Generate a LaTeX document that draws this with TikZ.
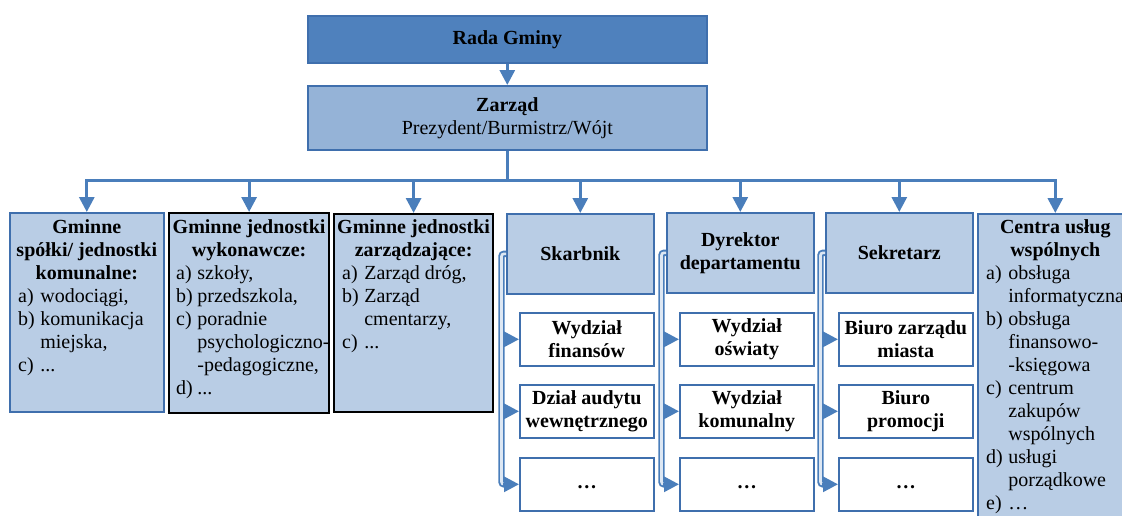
\documentclass[tikz,border=0pt]{standalone}
\usepackage{fontspec}
\setmainfont{Liberation Serif}
\usetikzlibrary{arrows.meta}

\definecolor{radafill}{HTML}{4F81BD}
\definecolor{zarzadfill}{HTML}{95B3D7}
\definecolor{unitfill}{HTML}{B9CDE5}
\definecolor{linkblue}{HTML}{4A7EBB}
\definecolor{edgeblue}{HTML}{3F6FAD}
\definecolor{railcore}{HTML}{DDE7F3}

% lettered list with a hanging label column
\newcommand{\orgitems}[2][5.5pt]{\begin{tabular}{@{}l@{\hspace{#1}}l@{}}#2\end{tabular}}

\begin{document}
\begin{tikzpicture}[x=1pt, y=-1pt,
  every node/.style={font=\fontsize{20}{23}\selectfont, inner sep=0pt},
  boxframe/.style={draw=edgeblue, line width=1.6pt, anchor=north west},
  unitbox/.style={boxframe, fill=unitfill},
  blackunit/.style={unitbox, draw=black, line width=2.2pt},
  office/.style={unitbox, minimum width=147pt, minimum height=80pt, align=center,
    font=\fontsize{20}{23}\selectfont\bfseries},
  subunit/.style={boxframe, fill=white, minimum width=134pt, minimum height=53pt, align=center,
    font=\fontsize{20}{23}\selectfont\bfseries},
  heading/.style={anchor=north, align=center, font=\fontsize{20}{23}\selectfont\bfseries},
  itemlist/.style={anchor=north west},
  link/.style={draw=linkblue, line width=3pt},
  rail/.style={draw=linkblue, line width=1.9pt, double=railcore, double distance=2.6pt,
    rounded corners=2.5pt},
  headed/.style={-{Triangle[width=15pt,length=15pt]}}
]
\useasboundingbox (0,0) rectangle (1122,515);
\clip (0,0) rectangle (1122,515);

% top levels
\node[boxframe, fill=radafill, minimum width=399pt, minimum height=47pt,
  font=\fontsize{20}{23}\selectfont\bfseries] (rada) at (307,15) {Rada Gminy};
\node[boxframe, fill=zarzadfill, minimum width=399pt, minimum height=64pt, align=center]
  (zarzad) at (307,85) {\textbf{Zarząd}\\Prezydent/Burmistrz/Wójt};

% municipal units
\node[unitbox, minimum width=154pt, minimum height=199pt] (spolki) at (9,212) {};
\node[blackunit, minimum width=160pt, minimum height=200pt] (wykonawcze) at (168,212) {};
\node[blackunit, minimum width=159pt, minimum height=198pt] (zarzadzajace) at (333,213) {};
\node[unitbox, minimum width=155pt, minimum height=330pt] (centra) at (977,213) {};

\node[heading] (spolki-h) at ([yshift=-5pt]spolki.north) {\strut Gminne\\spółki/ jednostki\\komunalne:};
\node[itemlist] (spolki-l) at (18,286) {\orgitems{a) & wodociągi,\\ b) & komunikacja\\ & miejska,\\ c) & ...}};

\node[heading] (wykonawcze-h) at ([yshift=-5pt]wykonawcze.north) {\strut Gminne jednostki\\wykonawcze:};
\node[itemlist] (wykonawcze-l) at (176,263) {\orgitems[4.5pt]{a) & szkoły,\\ b) & przedszkola,\\ c) & poradnie\\
  & psychologiczno-\\ & -pedagogiczne,\\ d) & ...}};

\node[heading] (zarzadzajace-h) at ([yshift=-4pt]zarzadzajace.north) {\strut Gminne jednostki\\zarządzające:};
\node[itemlist] (zarzadzajace-l) at (342,263) {\orgitems{a) & Zarząd dróg,\\ b) & Zarząd\\ & cmentarzy,\\ c) & ...}};

\node[heading] (centra-h) at ([yshift=-4pt]centra.north) {\strut Centra usług\\wspólnych};
\node[itemlist] (centra-l) at (986,263) {\orgitems{a) & obsługa\\ & informatyczna\\ b) & obsługa\\ & finansowo-\\
  & -księgowa\\ c) & centrum\\ & zakupów\\ & wspólnych\\ d) & usługi\\ & porządkowe\\ e) & …}};

% offices and their departments
\node[office] (skarbnik) at (506,213) {Skarbnik};
\node[office] (dyrektor) at (666,212) {Dyrektor\\departamentu};
\node[office] (sekretarz) at (825,212) {Sekretarz};

\node[subunit] (finanse) at (519,312) {Wydział\\finansów};
\node[subunit] (audyt) at (519,384) {Dział audytu\\wewnętrznego};
\node[subunit] (skarb-inne) at (519,457) {\strut…};
\node[subunit] (oswiata) at (679,312) {Wydział\\oświaty};
\node[subunit] (komunalny) at (679,384) {Wydział\\komunalny};
\node[subunit] (dyr-inne) at (679,457) {\strut…};
\node[subunit] (biuro-zarzadu) at (838,312) {Biuro zarządu\\miasta};
\node[subunit] (promocja) at (838,384) {Biuro\\promocji};
\node[subunit] (sekr-inne) at (838,457) {\strut…};

% connectors from the council down to the units
\draw[link, headed] (rada) -- (zarzad);
\coordinate (bus) at (0,180);
\draw[link] (zarzad.south) -- (zarzad.south |- bus);
\draw[link, line cap=rect] (spolki.north |- bus) -- (centra.north |- bus);
\foreach \n in {spolki, wykonawcze, zarzadzajace, skarbnik, dyrektor, sekretarz, centra}
  \draw[link, headed] (\n.north |- bus) -- (\n.north);

% elbow rails from each office to its departments
\draw[rail] (skarbnik.west) -- ++(-4.5,0) coordinate (skarbnik-rail) |- ([xshift=-13pt]skarb-inne.west);
\foreach \c in {finanse, audyt, skarb-inne}
  \draw[link, headed] ([xshift=1.5pt]skarbnik-rail |- \c.west) -- (\c.west);

\draw[rail] (dyrektor.west) -- ++(-4.5,0) coordinate (dyrektor-rail) |- ([xshift=-13pt]dyr-inne.west);
\foreach \c in {oswiata, komunalny, dyr-inne}
  \draw[link, headed] ([xshift=1.5pt]dyrektor-rail |- \c.west) -- (\c.west);

\draw[rail] (sekretarz.west) -- ++(-4.5,0) coordinate (sekretarz-rail) |- ([xshift=-13pt]sekr-inne.west);
\foreach \c in {biuro-zarzadu, promocja, sekr-inne}
  \draw[link, headed] ([xshift=1.5pt]sekretarz-rail |- \c.west) -- (\c.west);
\end{tikzpicture}
\end{document}
